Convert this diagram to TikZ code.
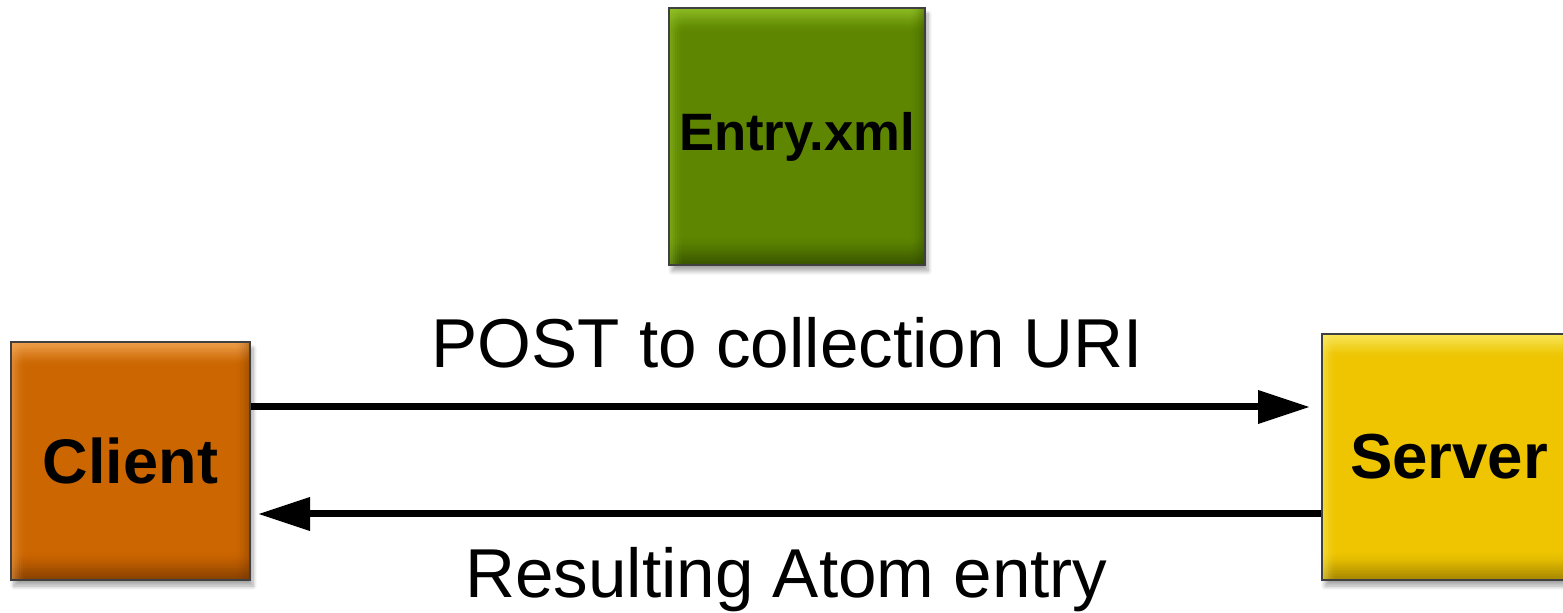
\documentclass[tikz,border=0pt]{standalone}
\usepackage{fontspec}
\setmainfont{Liberation Sans}
\usetikzlibrary{arrows.meta,shadows.blur}

\definecolor{clientbase}{HTML}{CC6600}
\definecolor{clientlight}{HTML}{FAB060}
\definecolor{clientdark}{HTML}{6E3600}
\definecolor{serverbase}{HTML}{EEC500}
\definecolor{serverlight}{HTML}{FFF270}
\definecolor{serverdark}{HTML}{8A7000}
\definecolor{entrybase}{HTML}{5E8600}
\definecolor{entrylight}{HTML}{9CCC30}
\definecolor{entrydark}{HTML}{2E4400}

% bevelled square tile: light top/left rim, dark bottom/right rim,
% each rim built from thin strips whose opacity fades towards the centre
\newcommand\bb{path picture bounding box}
\tikzset{
  tile/.style n args={3}{
    draw=black!75, line width=1pt, fill=#1,
    font=\bfseries, inner sep=0pt,
    blur shadow={shadow xshift=1.5pt, shadow yshift=-3pt, shadow blur steps=8, shadow opacity=35},
    path picture={
      \foreach \i in {0,...,11} {
        \fill[#2, fill opacity={0.22*(1-\i/12)}]
          (\bb.north west) rectangle ([yshift={-(\i+1)*1pt}]\bb.north east);
      }
      \foreach \i in {0,...,13} {
        \fill[#3, fill opacity={0.13*(1-\i/14)}]
          (\bb.south west) rectangle ([yshift={(\i+1)*1pt}]\bb.south east);
      }
      \foreach \i in {0,...,6} {
        \fill[#2, fill opacity={0.16*(1-\i/7)}]
          (\bb.north west) rectangle ([xshift={(\i+1)*1pt}]\bb.south west);
        \fill[#3, fill opacity={0.10*(1-\i/7)}]
          (\bb.north east) rectangle ([xshift={-(\i+1)*1pt}]\bb.south east);
      }
    }
  },
  link/.style={line width=3.5pt, -{Triangle[length=26pt,width=16pt]}},
  msg/.style={font=\fontsize{34.6}{40}\selectfont, anchor=base, inner sep=0pt}
}

\begin{document}
\begin{tikzpicture}[x=0.5pt, y=0.5pt]
  \useasboundingbox (0,0) rectangle (1563,-613);

  % tiles
  \node[tile={clientbase}{clientlight}{clientdark},
        minimum width=119.5pt, minimum height=119pt,
        font=\bfseries\fontsize{31.5}{36}\selectfont] (client) at (130.5,-461) {Client};
  \node[tile={serverbase}{serverlight}{serverdark},
        minimum width=127pt, minimum height=123pt,
        font=\bfseries\fontsize{31.8}{36}\selectfont] (server) at (1449,-457) {Server};
  \node[tile={entrybase}{entrylight}{entrydark},
        minimum width=128pt, minimum height=128.5pt,
        font=\bfseries\fontsize{26.3}{30}\selectfont] (entry) at (797,-136.5) {Entry.xml};

  % request and response
  \coordinate (posttip) at (1310,-407);
  \coordinate (restip) at (258,-514);
  \draw[link] (client.east |- posttip) -- (posttip);
  \draw[link] (server.west |- restip) -- (restip);

  % message labels
  \node[msg] (postlbl) at (787.5,-368) {POST to collection URI};
  \node[msg] (reslbl) at (786.5,-598) {Resulting Atom entry};
\end{tikzpicture}
\end{document}
